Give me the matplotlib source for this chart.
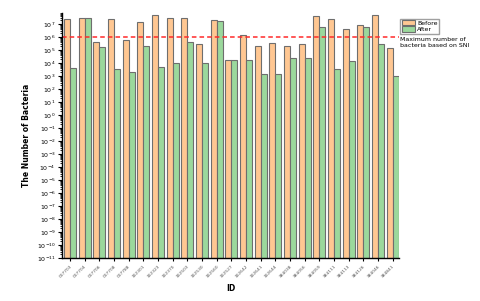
import numpy as np
import matplotlib
matplotlib.use("Agg")
import matplotlib.pyplot as plt
from matplotlib.ticker import LogLocator, NullFormatter

ids = ["007703", "007704", "007706", "007708", "007788", "102301", "102323",
       "102370", "102503", "102530", "102560", "102527", "102642", "102641",
       "102644", "384038", "384056", "384059", "384111", "384113", "384126",
       "384046", "384841"]

# log10 of bacteria counts
before_log = [7.38, 7.49, 5.59, 7.38, 5.74, 7.13, 7.69, 7.49, 7.49, 5.44, 7.28, 4.26,
              6.15, 5.33, 5.54, 5.33, 5.44, 7.64, 7.38, 6.62, 6.92, 7.69, 5.18]
after_log = [3.64, 7.44, 5.23, 3.54, 3.33, 5.33, 3.69, 4.00, 5.64, 4.00, 7.23, 4.21,
             4.26, 3.18, 3.18, 4.41, 4.41, 6.77, 3.54, 4.15, 6.77, 5.49, 2.98]
sni_limit = 1e6

before = 10.0 ** np.array(before_log)
after = 10.0 ** np.array(after_log)
bottom = 1e-11

fig = plt.figure(figsize=(4.8, 3.01), dpi=100)
ax = fig.add_axes([0.129, 0.143, 0.702, 0.814])

x = np.arange(len(ids))
w = 0.41
ax.bar(x - w / 2, before - bottom, w, bottom=bottom, color="#ffc792",
       edgecolor="#6e6e6e", linewidth=0.8, label="Before")
ax.bar(x + w / 2, after - bottom, w, bottom=bottom, color="#9bd89c",
       edgecolor="#6e6e6e", linewidth=0.8, label="After")
ax.axhline(sni_limit, color="#ff2a2a", linestyle=(0, (3, 2)), linewidth=1.1)

ax.set_yscale("log")
ax.set_ylim(1e-11, 10 ** 7.85)
ax.set_xlim(-0.55, 22.42)
ax.yaxis.set_major_locator(LogLocator(base=10, numticks=40))
ax.yaxis.set_minor_locator(LogLocator(base=10, subs=np.arange(2, 10), numticks=40))
ax.yaxis.set_minor_formatter(NullFormatter())
ax.tick_params(axis="y", which="major", length=3, width=0.8, labelsize=4.5, pad=1.5)
ax.tick_params(axis="y", which="minor", length=1.8, width=0.6)
ax.tick_params(axis="x", length=2.5, width=0.8, labelsize=3.2, pad=2)

ax.set_xticks(x)
ax.set_xticklabels(ids, rotation=45, ha="right", rotation_mode="anchor", color="#555555")

for s in ["top", "right"]:
    ax.spines[s].set_visible(False)
ax.spines["left"].set_linewidth(1.0)
ax.spines["bottom"].set_linewidth(1.0)

ax.set_ylabel("The Number of Bacteria", fontsize=5.5, fontweight="bold", labelpad=4)
ax.set_xlabel("ID", fontsize=5.5, fontweight="bold", labelpad=4)

ax.legend(loc="upper left", bbox_to_anchor=(0.995, 0.99), fontsize=4.5, frameon=True,
          fancybox=False, edgecolor="#888888", handlelength=2.2, handleheight=1.0,
          borderpad=0.2, labelspacing=0.1, handletextpad=0.3)
ax.text(1.003, 0.88, "Maximum number of\nbacteria based on SNI", transform=ax.transAxes,
        fontsize=4.5, va="center", ha="left", linespacing=1.1)

fig.savefig("out.png", dpi=100)
